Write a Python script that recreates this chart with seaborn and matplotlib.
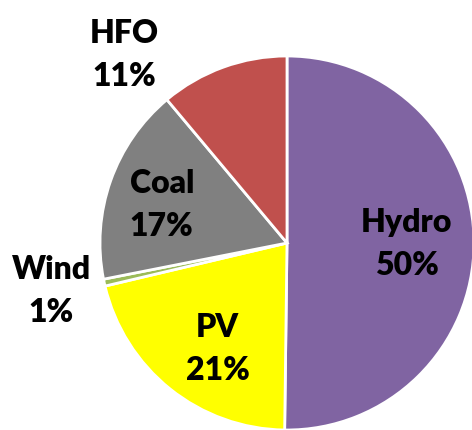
import numpy as np
import matplotlib
matplotlib.use("Agg")
import matplotlib.pyplot as plt
import seaborn as sns

sources = ["Hydro", "PV", "Wind", "Coal", "HFO"]
shares = [50.2, 21.1, 0.6, 17.0, 11.1]
colors = ["#8064A2", "#FFFF00", "#9BBB59", "#808080", "#C0504D"]

sns.set_theme(style="white")
plt.rcParams["font.family"] = ["Lato", "DejaVu Sans"]

fig = plt.figure(figsize=(4.72, 4.31), dpi=100)
ax = fig.add_axes([100 / 472, 0, 374 / 472, 374 / 431])

wedges, _ = ax.pie(shares, colors=colors, startangle=90, counterclock=False,
                   wedgeprops=dict(edgecolor="white", linewidth=2))
ax.set_xlim(-1, 1)
ax.set_ylim(-1, 1)
ax.set_aspect("equal")
ax.axis("off")

# label spots (pie units), Excel-like placement
label_pos = [(0.64, 0.0), (-0.37, -0.56), (-1.26, -0.25), (-0.67, 0.21), (-0.87, 1.01)]
total = sum(shares)
for name, val, (x, y) in zip(sources, shares, label_pos):
    ax.text(x, y, f"{name}\n{val / total * 100:.0f}%", ha="center", va="center",
            fontsize=23, fontweight="heavy", linespacing=1.6, color="black",
            clip_on=False)

fig.savefig("out.png", dpi=100)
